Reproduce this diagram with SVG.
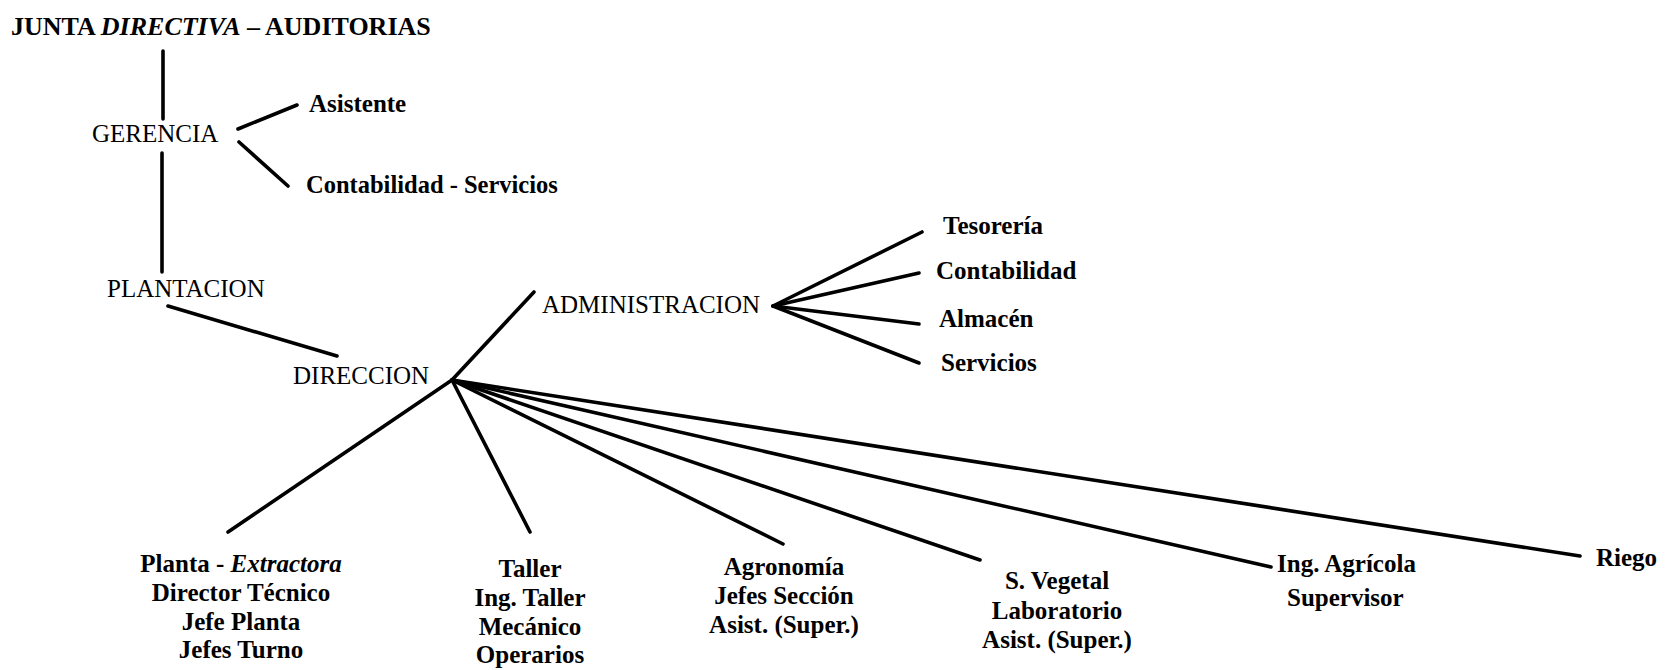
<svg xmlns="http://www.w3.org/2000/svg" width="1668" height="670" viewBox="0 0 1668 670">
<style>
  text { font-family: "Liberation Serif", "Times New Roman", serif; fill: #000; }
  .b { font-weight: bold; font-size: 25px; }
  .r { font-size: 25px; }
  .t { font-weight: bold; font-size: 26px; }
  .c { text-anchor: middle; }
  .it { font-style: italic; }
  .ln { stroke: #000; stroke-width: 3.6; stroke-linecap: round; fill: none; }
</style>
<rect width="1668" height="670" fill="#fff"/>
<g id="connectors">
  <line class="ln" x1="163" y1="51" x2="163" y2="119"/>
  <line class="ln" x1="162" y1="153" x2="162" y2="272"/>
  <line class="ln" x1="238" y1="129" x2="297" y2="105"/>
  <line class="ln" x1="239" y1="142" x2="288" y2="186"/>
  <line class="ln" x1="168" y1="306" x2="337" y2="356"/>
  <line class="ln" x1="452" y1="380" x2="534" y2="292"/>
  <line class="ln" x1="773" y1="306" x2="922" y2="232"/>
  <line class="ln" x1="773" y1="306" x2="919" y2="273"/>
  <line class="ln" x1="773" y1="306" x2="919" y2="324"/>
  <line class="ln" x1="773" y1="306" x2="919" y2="363"/>
  <line class="ln" x1="452" y1="380" x2="228" y2="532"/>
  <line class="ln" x1="452" y1="380" x2="530" y2="532"/>
  <line class="ln" x1="452" y1="380" x2="783" y2="544"/>
  <line class="ln" x1="452" y1="380" x2="980" y2="560"/>
  <line class="ln" x1="452" y1="380" x2="1271" y2="567"/>
  <line class="ln" x1="452" y1="380" x2="1580" y2="556"/>
</g>
<g id="junta"><text class="t" x="11" y="35">JUNTA <tspan class="it">DIRECTIVA</tspan> – AUDITORIAS</text></g>
<g id="gerencia"><text class="r" x="92" y="142">GERENCIA</text></g>
<g id="asistente"><text class="b" x="309" y="112">Asistente</text></g>
<g id="contabilidad-servicios"><text class="b" x="306" y="193" style="font-size:24.5px">Contabilidad - Servicios</text></g>
<g id="plantacion"><text class="r" x="107" y="297">PLANTACION</text></g>
<g id="direccion"><text class="r" x="293" y="384">DIRECCION</text></g>
<g id="administracion"><text class="r" x="542" y="313">ADMINISTRACION</text></g>
<g id="tesoreria"><text class="b" x="943" y="234">Tesorería</text></g>
<g id="contabilidad"><text class="b" x="936" y="279">Contabilidad</text></g>
<g id="almacen"><text class="b" x="939" y="327">Almacén</text></g>
<g id="servicios"><text class="b" x="941" y="371">Servicios</text></g>
<g id="planta">
  <text class="b c" x="241" y="572">Planta - <tspan class="it">Extractora</tspan></text>
  <text class="b c" x="241" y="601">Director Técnico</text>
  <text class="b c" x="241" y="630">Jefe Planta</text>
  <text class="b c" x="241" y="658">Jefes Turno</text>
</g>
<g id="taller">
  <text class="b c" x="530" y="577">Taller</text>
  <text class="b c" x="530" y="606">Ing. Taller</text>
  <text class="b c" x="530" y="635">Mecánico</text>
  <text class="b c" x="530" y="663">Operarios</text>
</g>
<g id="agronomia">
  <text class="b c" x="784" y="575">Agronomía</text>
  <text class="b c" x="784" y="604">Jefes Sección</text>
  <text class="b c" x="784" y="633">Asist. (Super.)</text>
</g>
<g id="svegetal">
  <text class="b c" x="1057" y="589">S. Vegetal</text>
  <text class="b c" x="1057" y="619">Laboratorio</text>
  <text class="b c" x="1057" y="648">Asist. (Super.)</text>
</g>
<g id="ingagricola">
  <text class="b" x="1277" y="572">Ing. Agrícola</text>
  <text class="b" x="1287" y="606">Supervisor</text>
</g>
<g id="riego"><text class="b" x="1596" y="566">Riego</text></g>
</svg>
